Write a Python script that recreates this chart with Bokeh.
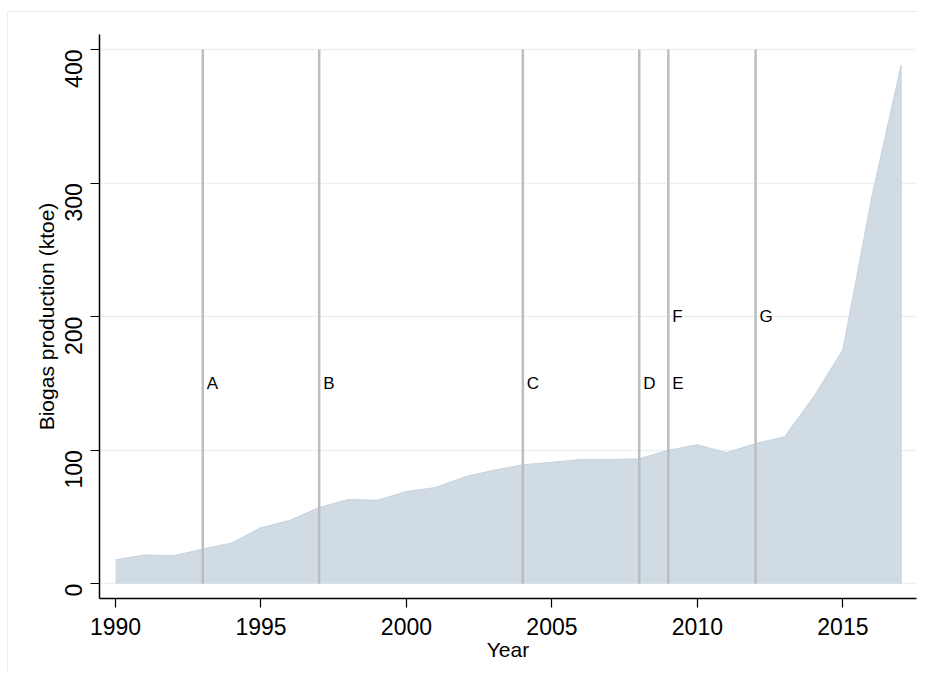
import math
from bokeh.plotting import figure
from bokeh.models import ColumnDataSource, FixedTicker
from bokeh.core.properties import value
from bokeh.embed import file_html
from bokeh.resources import INLINE

years = list(range(1990, 2018))
biogas = [18, 21.5, 21, 26, 30.5, 42, 47.5, 57, 63, 62.5, 69, 72, 80, 85, 89,
          91, 93, 93, 93.5, 100, 104, 98, 105, 110, 140, 175, 290, 388]

event_years = [1993, 1997, 2004, 2008, 2009, 2012]
event_bottom = [0] * len(event_years)
event_top = [400] * len(event_years)

label_x = [1993, 1997, 2004, 2008, 2009, 2009, 2012]
label_y = [150, 150, 150, 150, 150, 200, 200]
label_text = ["A", "B", "C", "D", "E", "F", "G"]

x_ticks = [1990, 1995, 2000, 2005, 2010, 2015]
y_ticks = [0, 100, 200, 300, 400]

FONT = "Liberation Sans"

p = figure(width=910, height=660, output_backend="svg", toolbar_location=None,
           x_range=(1989.45, 2017.53), y_range=(-11.0, 411.25),
           min_border_left=91, min_border_right=2, min_border_top=22,
           min_border_bottom=74)
p.styles = {"margin-top": "11px", "margin-left": "7px",
            "border-left": "1px solid #E6EEF2",
            "border-top": "1px solid #E6EEF2"}
p.outline_line_color = None
p.background_fill_color = "white"
p.border_fill_color = "white"

# grid
p.xgrid.grid_line_color = None
p.ygrid.ticker = FixedTicker(ticks=y_ticks)
p.ygrid.grid_line_color = "#EAF1F4"
p.ygrid.grid_line_width = 1.5

src = ColumnDataSource(dict(x=years, y=biogas, base=[0] * len(years)))
p.varea(x="x", y1="base", y2="y", source=src, fill_color="#D1DBE4")
p.line(x="x", y="y", source=src, line_color="#C8D4DF", line_width=1.2)
p.segment(x0=[years[-1]], y0=[0], x1=[years[-1]], y1=[biogas[-1]],
          line_color="#C8D4DF", line_width=1.2)

ev = ColumnDataSource(dict(x=event_years, y0=event_bottom, y1=event_top))
p.segment(x0="x", y0="y0", x1="x", y1="y1", source=ev,
          line_color="#BDBDBD", line_width=2.5)

lab = ColumnDataSource(dict(x=label_x, y=label_y, t=label_text))
p.text(x="x", y="y", text="t", source=lab, x_offset=4,
       text_align="left", text_baseline="middle",
       text_font=value(FONT), text_font_size="17px", text_color="black")

# axes
for ax in (p.xaxis[0], p.yaxis[0]):
    ax.axis_line_color = "black"
    ax.axis_line_width = 1.5
    ax.major_tick_line_color = "black"
    ax.major_tick_line_width = 1.2
    ax.major_tick_out = 9
    ax.major_tick_in = 0
    ax.minor_tick_line_color = None
    ax.major_label_text_font = FONT
    ax.major_label_text_font_size = "23px"
    ax.major_label_text_color = "black"
    ax.axis_label_text_font = FONT
    ax.axis_label_text_font_size = "21px"
    ax.axis_label_text_font_style = "normal"
    ax.axis_label_text_color = "black"

p.xaxis.ticker = FixedTicker(ticks=x_ticks)
p.yaxis.ticker = FixedTicker(ticks=y_ticks)
p.xaxis.axis_label = "Year"
p.yaxis.axis_label = "Biogas production (ktoe)"
p.xaxis.major_label_standoff = 10
p.xaxis.axis_label_standoff = 0
p.yaxis.major_label_orientation = math.pi / 2
p.yaxis.major_label_standoff = 17
p.yaxis.axis_label_standoff = -4

open("out.html", "w").write(file_html(p, INLINE))
